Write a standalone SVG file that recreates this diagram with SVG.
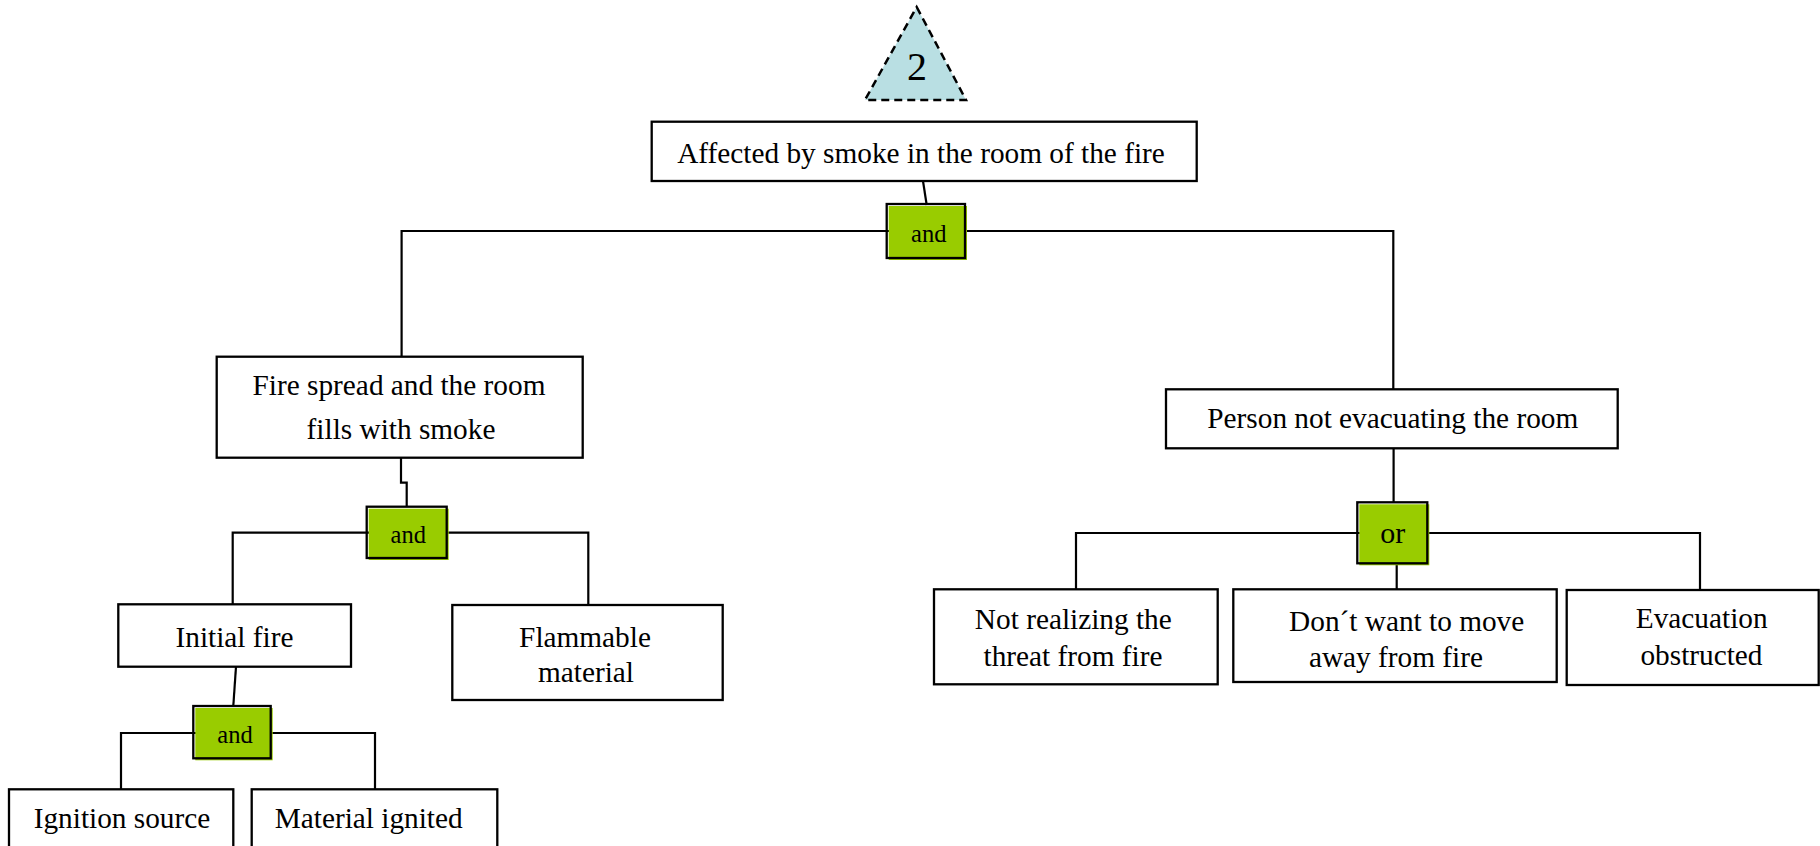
<svg xmlns="http://www.w3.org/2000/svg" width="1820" height="846" viewBox="0 0 1820 846">
<style>
.box{fill:#fff;stroke:#000;stroke-width:2.3}
.gf{fill:#99cc00}
.gs{fill:none;stroke:#000;stroke-width:2.3}
.t{font-family:"Liberation Serif","Times New Roman",serif;font-size:29.3px;fill:#000;text-anchor:middle}
.g{font-family:"Liberation Serif","Times New Roman",serif;font-size:24.5px;fill:#000;text-anchor:middle}
.c{fill:none;stroke:#000;stroke-width:2.2}
</style>
<rect width="1820" height="846" fill="#fff"/>
<g id="connectors">
<path class="c" d="M923 181 L926.7 205"/>
<path class="c" d="M401.6 356.7 V231 H1393.3 V389.3"/>
<path class="c" d="M401 457.7 V482.7 H406.7 V506.7"/>
<path class="c" d="M232.7 604.3 V532.7 H588.3 V605"/>
<path class="c" d="M236 666.7 L233.3 706"/>
<path class="c" d="M121 789.3 V733 H375 V789.3"/>
<path class="c" d="M1393.6 448.3 V502.3"/>
<path class="c" d="M1076 589.3 V533 H1700 V590"/>
<path class="c" d="M1396.7 563.3 V589.3"/>
</g>
<g id="transfer">
<polygon points="916.7,7 966,100 865,100" fill="#b9dfe3" stroke="#000" stroke-width="2.5" stroke-dasharray="8,5"/>
<text x="917" y="80" style="font-family:'Liberation Serif','Times New Roman',serif;font-size:40px;text-anchor:middle">2</text>
</g>
<g id="top">
<rect class="box" x="651.7" y="121.7" width="545" height="59.3"/>
<text class="t" x="921" y="163">Affected by smoke in the room of the fire</text>
</g>
<g id="gate1">
<rect class="gf" x="888.7" y="206" width="78.3" height="54"/>
<rect class="gs" x="886.7" y="204" width="78.3" height="54"/>
<text class="g" x="928.8" y="242">and</text>
</g>
<g id="fire-spread">
<rect class="box" x="216.7" y="356.7" width="366" height="101"/>
<text class="t" x="399" y="395">Fire spread and the room</text>
<text class="t" x="401" y="439">fills with smoke</text>
</g>
<g id="person">
<rect class="box" x="1166" y="389.3" width="451.7" height="59"/>
<text class="t" x="1392.8" y="428.3">Person not evacuating the room</text>
</g>
<g id="gate2">
<rect class="gf" x="368.7" y="508.7" width="80" height="51.3"/>
<rect class="gs" x="366.7" y="506.7" width="80" height="51.3"/>
<text class="g" x="408.3" y="543.3">and</text>
</g>
<g id="gate-or">
<rect class="gf" x="1359.3" y="504.3" width="70" height="61"/>
<rect class="gs" x="1357.3" y="502.3" width="70" height="61"/>
<text class="t" x="1392.7" y="543.3" style="font-size:30px">or</text>
</g>
<g id="initial-fire">
<rect class="box" x="118.3" y="604.3" width="232.7" height="62.4"/>
<text class="t" x="234.5" y="647">Initial fire</text>
</g>
<g id="flammable">
<rect class="box" x="452.3" y="605" width="270.4" height="95"/>
<text class="t" x="585" y="647.3">Flammable</text>
<text class="t" x="586" y="681.7">material</text>
</g>
<g id="gate3">
<rect class="gf" x="195.3" y="708" width="77.4" height="52.3"/>
<rect class="gs" x="193.3" y="706" width="77.4" height="52.3"/>
<text class="g" x="235" y="743.3">and</text>
</g>
<g id="ignition">
<rect class="box" x="9" y="789.3" width="224.3" height="70"/>
<text class="t" x="122" y="828.3">Ignition source</text>
</g>
<g id="material">
<rect class="box" x="251.7" y="789.3" width="245.6" height="70"/>
<text class="t" x="368.7" y="828.3">Material ignited</text>
</g>
<g id="not-realizing">
<rect class="box" x="934" y="589.3" width="283.7" height="95"/>
<text class="t" x="1073.3" y="629.3">Not realizing the</text>
<text class="t" x="1073" y="666">threat from fire</text>
</g>
<g id="dont-want">
<rect class="box" x="1233.3" y="589.3" width="323.4" height="92.7"/>
<text class="t" x="1406.7" y="631">Don´t want to move</text>
<text class="t" x="1396" y="667.3">away from fire</text>
</g>
<g id="evacuation">
<rect class="box" x="1566.7" y="590" width="252" height="95"/>
<text class="t" x="1701.7" y="628.3">Evacuation</text>
<text class="t" x="1701.5" y="665">obstructed</text>
</g>
</svg>
